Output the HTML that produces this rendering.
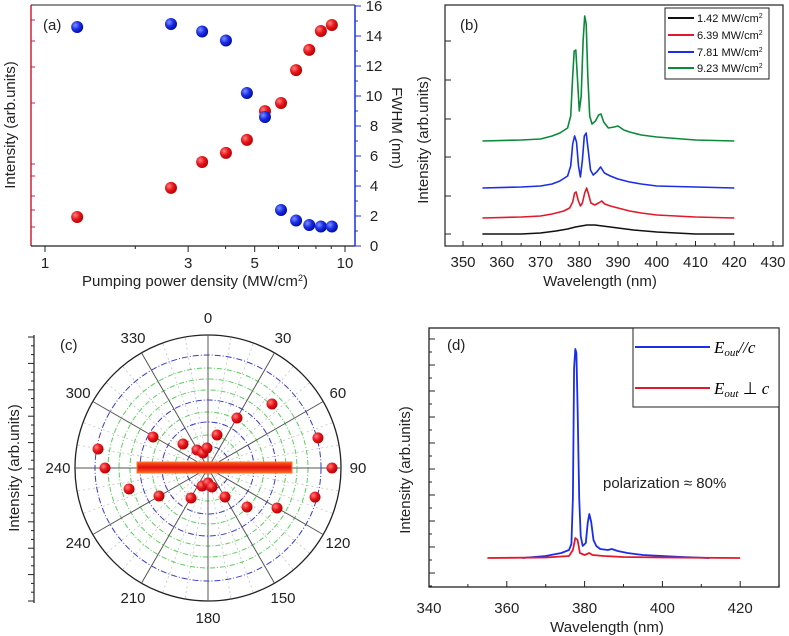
<!DOCTYPE html>
<html><head><meta charset="utf-8">
<style>
html,body{margin:0;padding:0;background:#fff;}
svg{display:block;font-family:"Liberation Sans",sans-serif;}
.t{font-size:15px;fill:#222;}
.s{font-size:11px;fill:#111;}
</style></head>
<body>
<svg id="fig" width="789" height="636" viewBox="0 0 789 636">
<defs>
<radialGradient id="gr" cx="0.35" cy="0.35" r="0.7"><stop offset="0" stop-color="#ff8080"/><stop offset="0.5" stop-color="#e8161b"/><stop offset="1" stop-color="#b00000"/></radialGradient>
<radialGradient id="gb" cx="0.35" cy="0.35" r="0.7"><stop offset="0" stop-color="#8090ff"/><stop offset="0.5" stop-color="#1a2ee8"/><stop offset="1" stop-color="#000a9a"/></radialGradient>
<linearGradient id="bar" x1="0" y1="0" x2="0" y2="1"><stop offset="0" stop-color="#ff5a20"/><stop offset="0.5" stop-color="#e01010"/><stop offset="1" stop-color="#ff6a20"/></linearGradient>
</defs>

<!-- Panel a -->
<g>
  <line x1="31" y1="5" x2="31" y2="246" stroke="#d0213c" stroke-width="1.5"/>
  <line x1="31" y1="5" x2="355" y2="5" stroke="#222" stroke-width="1"/>
  <line x1="31" y1="246" x2="355" y2="246" stroke="#222" stroke-width="1.2"/>
  <line x1="355" y1="5" x2="355" y2="246" stroke="#1a2ee8" stroke-width="1.5"/>
  <g id="aTicks"></g>
  <text x="43" y="30" class="t">(a)</text>
  <text transform="translate(15,125) rotate(-90)" text-anchor="middle" class="t">Intensity (arb.units)</text>
  <text transform="translate(392,128) rotate(90)" text-anchor="middle" class="t">FWHM (nm)</text>
  <text x="195" y="286" text-anchor="middle" class="t">Pumping power density (MW/cm<tspan dy="-5" font-size="9">2</tspan><tspan dy="5">)</tspan></text>
  <g id="aPts"></g>
</g>

<!-- Panel b -->
<g>
  <rect x="445" y="5" width="338" height="241" fill="none" stroke="#222" stroke-width="1.2"/>
  <g id="bTicks"></g>
  <text x="460" y="30" class="t">(b)</text>
  <text transform="translate(428,140) rotate(-90)" text-anchor="middle" class="t">Intensity (arb.units)</text>
  <text x="600" y="286" text-anchor="middle" class="t">Wavelength (nm)</text>
  <g id="bLines"></g>
  <g>
    <rect x="665" y="8" width="104" height="71" fill="#fff" stroke="#222" stroke-width="1"/>
    <g><line x1="668" y1="18" x2="694" y2="18" stroke="#111" stroke-width="2"/><text x="697" y="22" class="s">1.42 MW/cm<tspan dy="-4" font-size="7">2</tspan></text></g>
    <g><line x1="668" y1="35" x2="694" y2="35" stroke="#e01a2a" stroke-width="2"/><text x="697" y="39" class="s">6.39 MW/cm<tspan dy="-4" font-size="7">2</tspan></text></g>
    <g><line x1="668" y1="52" x2="694" y2="52" stroke="#1a2ee8" stroke-width="2"/><text x="697" y="56" class="s">7.81 MW/cm<tspan dy="-4" font-size="7">2</tspan></text></g>
    <g><line x1="668" y1="68" x2="694" y2="68" stroke="#0b8a3a" stroke-width="2"/><text x="697" y="72" class="s">9.23 MW/cm<tspan dy="-4" font-size="7">2</tspan></text></g>
  </g>
</g>

<!-- Panel c -->
<g>
  <line x1="34" y1="335" x2="34" y2="603" stroke="#222" stroke-width="1.2"/>
  <g id="cTicks"></g>
  <text transform="translate(19,468) rotate(-90)" text-anchor="middle" class="t">Intensity (arb.units)</text>
  <text x="60" y="350" class="t">(c)</text>
  <g id="cGrid"></g>
  <rect x="137" y="462" width="155" height="11" fill="url(#bar)" stroke="#ff7a30" stroke-width="1"/>
  <g id="cPts"></g>
</g>

<!-- Panel d -->
<g>
  <rect x="429" y="328" width="350" height="259" fill="none" stroke="#222" stroke-width="1.3"/>
  <g id="dTicks"></g>
  <text x="447" y="350" class="t">(d)</text>
  <text transform="translate(410,470) rotate(-90)" text-anchor="middle" class="t">Intensity (arb.units)</text>
  <text x="607" y="632" text-anchor="middle" class="t">Wavelength (nm)</text>
  <text x="603" y="488" class="t">polarization ≈ 80%</text>
  <g id="dLines"></g>
  <g>
    <rect x="633" y="328" width="146" height="79" fill="#fff" stroke="#222" stroke-width="1"/>
    <g><line x1="635" y1="347" x2="710" y2="347" stroke="#1a2ee8" stroke-width="2"/><text x="714" y="353" font-family="Liberation Serif,serif" font-style="italic" font-size="17">E<tspan font-size="11" dy="3">out</tspan><tspan dy="-3">//c</tspan></text></g>
    <g><line x1="635" y1="388" x2="710" y2="388" stroke="#e01a2a" stroke-width="2"/><text x="714" y="394" font-family="Liberation Serif,serif" font-style="italic" font-size="17">E<tspan font-size="11" dy="3">out</tspan><tspan dy="-3" font-style="normal"> ⊥ </tspan><tspan>c</tspan></text></g>
  </g>
</g>
</svg>
<script>
// ---- Panel a data ----
const aPower = [1.28, 2.63, 3.34, 4.01, 4.71, 5.41, 6.12, 6.87, 7.6, 8.31, 9.04];
const aFWHM = [14.6, 14.8, 14.3, 13.7, 10.2, 8.6, 2.4, 1.7, 1.4, 1.3, 1.3];
const aIntensity = [12.1, 24.2, 35, 38.8, 44.2, 56.2, 59.6, 73.3, 81.7, 89.6, 92.1];
const aXTicks = [1, 2, 3, 4, 5, 6, 7, 8, 9, 10];
const aXLabels = ["1", "3", "5", "10"];
const aFTicks = [0, 2, 4, 6, 8, 10, 12, 14, 16];
// ---- Panel b data ----
const bXTicks = [350, 360, 370, 380, 390, 400, 410, 420, 430];
const bBlackWl = [355, 365, 370, 374, 377, 379, 380.5, 382, 384, 386, 388, 390, 394, 400, 405, 410, 420];
const bBlack = [12, 12, 13, 15, 17, 19, 20, 21, 21, 20, 19, 18, 16, 14, 13, 12, 12];
const bRedWl = [355, 365, 370, 373, 376, 377.5, 378.3, 378.8, 379.2, 379.7, 380.3, 380.8, 381.4, 381.9, 382.4, 383, 384, 385, 385.8, 386.6, 388, 390, 393, 396, 400, 410, 420];
const bRed = [28, 29, 30, 32, 35, 38, 44, 53, 54, 46, 40, 43, 53, 58, 52, 43, 41, 43, 45, 42, 40, 38, 35, 33, 31, 29, 28];
const bBlueWl = [355, 365, 370, 373, 375, 377, 377.8, 378.3, 378.8, 379.3, 379.8, 380.3, 380.8, 381.3, 381.8, 382.3, 382.9, 383.6, 384.5, 385.5, 386.5, 388, 390, 393, 396, 400, 410, 420];
const bBlue = [58, 59, 60, 62, 65, 70, 80, 102, 110, 104, 80, 69, 86, 110, 113, 96, 76, 71, 74, 79, 73, 70, 67, 64, 62, 60, 59, 58];
const bGreenWl = [355, 365, 370, 373, 375, 377, 377.8, 378.3, 378.7, 379.1, 379.5, 380, 380.5, 381, 381.4, 381.8, 382.2, 382.7, 383.3, 384.2, 385, 385.6, 386.3, 387.5, 389, 390, 391.5, 393, 396, 400, 410, 420];
const bGreen = [105, 106, 107, 110, 113, 118, 130, 170, 195, 196, 170, 135, 150, 205, 230, 222, 170, 130, 122, 125, 131, 132, 124, 118, 119, 120, 116, 114, 111, 109, 106, 105];
// ---- Panel c data ----
const cAngles = [279.8, 270, 255.1, 299.4, 240.3, 313.8, 209.5, 328.6, 341.6, 357, 15.3, 30.1, 45, 74.7, 90, 105.2, 120.1, 135, 149.6, 198.4, 180, 168.1];
const cRadii = [111.6, 103, 81.7, 63.1, 56.4, 34.7, 34.5, 21.1, 15.8, 20, 34.2, 57.8, 90.5, 114, 124, 110.9, 79.8, 55.2, 33.6, 19, 15, 19.4];
const cAngleLabels = ["0", "30", "60", "90", "120", "150", "180", "210", "240", "240", "300", "330"];
const cBlueRings = [22, 46, 68, 113];
const cGreenRings = [33, 56, 78, 89, 100];
// ---- Panel d data ----
const dXTicks = [340, 350, 360, 370, 380, 390, 400, 410, 420, 430];
const dXLabels = [340, 360, 380, 400, 420];
const dBlueWl = [364, 370, 374, 376, 376.6, 377, 377.3, 377.6, 377.9, 378.2, 378.6, 379, 379.5, 380.3, 380.8, 381.2, 381.7, 382.3, 383, 384, 386, 387, 388.5, 391, 395, 400, 405, 412];
const dBlue = [0, 2, 5, 8, 14, 60, 190, 209, 205, 150, 60, 22, 12, 15, 35, 44, 36, 18, 12, 9, 8, 9, 7, 5, 3, 2, 1, 0];
const dRedWl = [355, 370, 376, 377, 377.6, 378.2, 378.8, 380, 381.2, 382, 385, 390, 400, 420];
const dRed = [0, 0.5, 2, 8, 20, 18, 5, 3, 5, 3, 2, 1, 0.5, 0];

const NS = "http://www.w3.org/2000/svg";
function mk(tag, attrs, parent) {
  const el = document.createElementNS(NS, tag);
  for (const k in attrs) el.setAttribute(k, attrs[k]);
  parent.appendChild(el);
  return el;
}
function $(id) { return document.getElementById(id); }

const axX = v => 45 + 300 * Math.log10(v);
const ayF = f => 246 - 15 * f;
const ayI = i => 246 - 2.4 * i;
const aT = $("aTicks");
aXTicks.forEach(v => {
  const big = aXLabels.includes(String(v));
  const el = mk("line", {x1: axX(v), x2: axX(v), y1: 246, y2: big ? 252 : 249, stroke: "#222"}, aT);
  
  
});
aXLabels.forEach(l => {
  const el = mk("text", {x: axX(+l), y: 268, "text-anchor": "middle", class: "t"}, aT);
  el.textContent = l;
  
  
});
aFTicks.forEach(f => {
  const el = mk("line", {x1: 355, x2: 361, y1: ayF(f), y2: ayF(f), stroke: "#1a2ee8"}, aT);
  
  
  const m = mk("line", {x1: 355, x2: 358, y1: ayF(f + 1), y2: ayF(f + 1), stroke: "#1a2ee8"}, aT);
  
  
  const t = mk("text", {x: 374, y: ayF(f) + 5, "text-anchor": "middle", class: "t"}, aT);
  t.textContent = f;
  
  
});
[20, 41, 67, 103, 164, 176, 196, 210, 227].forEach(y => {
  const el = mk("line", {x1: 31, x2: 35, y1: y, y2: y, stroke: "#d0213c"}, aT);
  
  
});
const aP = $("aPts");
aPower.forEach((p, i) => {
  const r = mk("circle", {cx: axX(p), cy: ayI(aIntensity[i]), r: 6, fill: "url(#gr)"}, aP);
  
  
});
aPower.forEach((p, i) => {
  const b = mk("circle", {cx: axX(p), cy: ayF(aFWHM[i]), r: 6, fill: "url(#gb)"}, aP);
  
  
});

const bx = w => 463 + (w - 350) * 3.875;
const by = v => 246 - v;
const bT = $("bTicks");
bXTicks.forEach(w => {
  const el = mk("line", {x1: bx(w), x2: bx(w), y1: 246, y2: 241, stroke: "#222"}, bT);
  
  
  const m = mk("line", {x1: bx(w + 5), x2: bx(w + 5), y1: 246, y2: 243, stroke: "#222"}, bT);
  
  
  const t = mk("text", {x: bx(w), y: 267, "text-anchor": "middle", class: "t"}, bT);
  t.textContent = w;
  
  
});
[41, 80, 119, 157, 196, 234].forEach(y => {
  const el = mk("line", {x1: 445, x2: 451, y1: y, y2: y, stroke: "#222"}, bT);
  
  
});
function line(g, wl, vals, fx, fy, color, name, w) {
  const d = wl.map((x, i) => (i ? "L" : "M") + fx(x).toFixed(1) + "," + fy(vals[i]).toFixed(1)).join(" ");
  const p = mk("path", {d: d, fill: "none", stroke: color, "stroke-width": w, "stroke-linejoin": "round"}, g);
  
  
}
const bL = $("bLines");
line(bL, bBlackWl, bBlack, bx, by, "#111", "spectrum-1-42", 1.6);
line(bL, bRedWl, bRed, bx, by, "#e01a2a", "spectrum-6-39", 1.6);
line(bL, bBlueWl, bBlue, bx, by, "#1a2ee8", "spectrum-7-81", 1.6);
line(bL, bGreenWl, bGreen, bx, by, "#0b8a3a", "spectrum-9-23", 1.6);

const cx0 = 208, cy0 = 468, R = 133;
const cG = $("cGrid");
const outer = mk("circle", {cx: cx0, cy: cy0, r: R, fill: "#fff", stroke: "#222", "stroke-width": 1.3}, cG);


for (let a = 0; a < 360; a += 10) {
  if (a % 30 === 0) continue;
  const rad = a * Math.PI / 180;
  const el = mk("line", {x1: cx0, y1: cy0, x2: cx0 + R * Math.sin(rad), y2: cy0 - R * Math.cos(rad), stroke: "#bbb", "stroke-width": 0.7, "stroke-dasharray": "2,3"}, cG);
  
  
}
cGreenRings.forEach(r => {
  const el = mk("circle", {cx: cx0, cy: cy0, r: r, fill: "none", stroke: "#5ad05a", "stroke-width": 1, "stroke-dasharray": "5,2,1,2"}, cG);
  
  
});
cBlueRings.forEach(r => {
  const el = mk("circle", {cx: cx0, cy: cy0, r: r, fill: "none", stroke: "#3a3ad0", "stroke-width": 1, "stroke-dasharray": "6,2,1,2"}, cG);
  
  
});
cAngleLabels.forEach((l, i) => {
  const rad = i * 30 * Math.PI / 180;
  const sp = mk("line", {x1: cx0, y1: cy0, x2: cx0 + R * Math.sin(rad), y2: cy0 - R * Math.cos(rad), stroke: "#555", "stroke-width": 1}, cG);
  
  
  const rr = R + 17;
  const t = mk("text", {x: cx0 + rr * Math.sin(rad), y: cy0 - rr * Math.cos(rad) + 5, "text-anchor": "middle", class: "t"}, cG);
  t.textContent = l;
  
  
});
const cT = $("cTicks");
for (let k = 0; k <= 30; k++) {
  const y = 337 + k * 8.8;
  const el = mk("line", {x1: k % 3 === 0 ? 28 : 31, x2: 34, y1: y, y2: y, stroke: "#222"}, cT);
  
  
}
const cP = $("cPts");
cAngles.forEach((a, i) => {
  const rad = a * Math.PI / 180;
  const el = mk("circle", {cx: cx0 + cRadii[i] * Math.sin(rad), cy: cy0 - cRadii[i] * Math.cos(rad), r: 5.5, fill: "url(#gr)"}, cP);
  
  
});

const dx = w => 429 + (w - 340) * 3.89;
const dy = v => 558 - v;
const dT = $("dTicks");
dXTicks.forEach(w => {
  const major = dXLabels.includes(w);
  const el = mk("line", {x1: dx(w), x2: dx(w), y1: 587, y2: major ? 581 : 584, stroke: "#222"}, dT);
  
  
});
dXLabels.forEach(w => {
  const t = mk("text", {x: dx(w), y: 613, "text-anchor": "middle", class: "t"}, dT);
  t.textContent = w;
  
  
});
for (let k = 0; k < 20; k++) {
  const y = 339 + k * 13;
  const el = mk("line", {x1: 429, x2: k % 2 ? 432 : 435, y1: y, y2: y, stroke: "#222"}, dT);
  
  
}
const dL = $("dLines");
line(dL, dBlueWl, dBlue, dx, dy, "#1a2ee8", "spectrum-parallel", 1.8);
line(dL, dRedWl, dRed, dx, dy, "#e01a2a", "spectrum-perpendicular", 1.8);
</script>
</body></html>
